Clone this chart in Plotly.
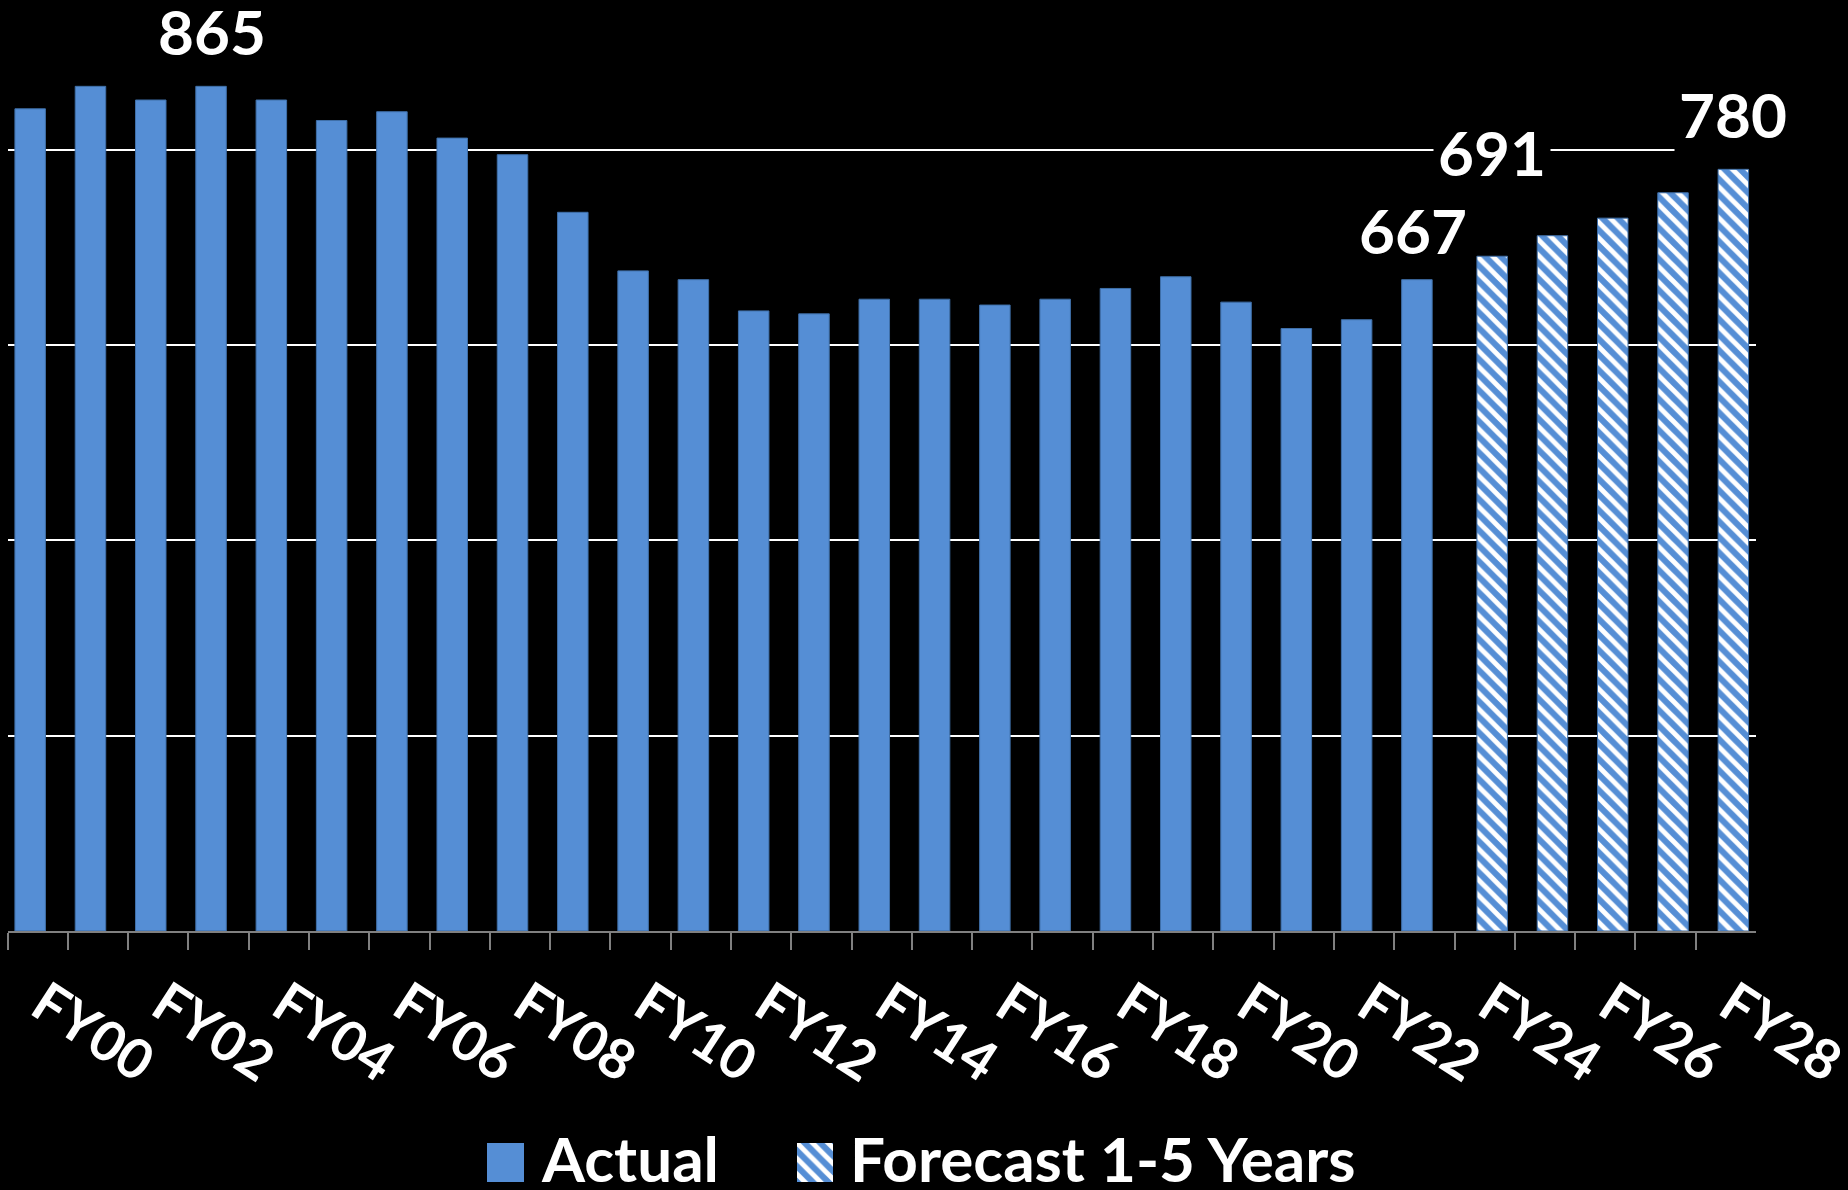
import plotly.graph_objects as go

# Fiscal-year categories shown on the axis
categories = ["FY00", "FY01", "FY02", "FY03", "FY04", "FY05", "FY06", "FY07",
              "FY08", "FY09", "FY10", "FY11", "FY12", "FY13", "FY14", "FY15",
              "FY16", "FY17", "FY18", "FY19", "FY20", "FY21", "FY22", "FY23",
              "FY24", "FY25", "FY26", "FY27", "FY28"]
tick_labels = ["FY00", "", "FY02", "", "FY04", "", "FY06", "", "FY08", "",
               "FY10", "", "FY12", "", "FY14", "", "FY16", "", "FY18", "",
               "FY20", "", "FY22", "", "FY24", "", "FY26", "", "FY28"]

# Actual values
actual_years = categories[:24]
actual_values = [842, 865, 851, 865, 851, 830, 839, 812, 795, 736, 676, 667,
                 635, 632, 647, 647, 641, 647, 658, 670, 644, 617, 626, 667]

# Forecast values (1-5 years out)
forecast_years = categories[24:]
forecast_values = [691, 712, 730, 756, 780]

# Values called out above their bars: (category, value)
callouts = [("FY03", 865), ("FY23", 667), ("FY24", 691), ("FY28", 780)]

BLUE = "#558ed5"
EDGE = "#3f6fa8"
W, H = 1848, 1190
FONT = "Lato"

stripes = dict(shape="\\", fgcolor="white", bgcolor=BLUE, size=11,
               solidity=0.45, fillmode="replace")

fig = go.Figure()

fig.add_trace(go.Bar(
    x=actual_years, y=actual_values, name="Actual",
    width=0.506, offset=-0.377,
    marker=dict(color=BLUE, line=dict(color=EDGE, width=1)),
    showlegend=False, hoverinfo="x+y",
))
fig.add_trace(go.Bar(
    x=forecast_years, y=forecast_values, name="Forecast 1-5 Years",
    width=0.506, offset=-0.129,
    marker=dict(color=BLUE, line=dict(color=EDGE, width=1), pattern=stripes),
    showlegend=False, hoverinfo="x+y",
))

# Legend swatches, each filling its own small axis box
fig.add_trace(go.Bar(x=[0.5], y=[1], width=1, xaxis="x2", yaxis="y2",
                     marker=dict(color=BLUE, line=dict(width=0)),
                     showlegend=False, hoverinfo="skip"))
fig.add_trace(go.Bar(x=[0.5], y=[1], width=1, xaxis="x3", yaxis="y3",
                     marker=dict(color=BLUE, line=dict(width=0), pattern=stripes),
                     showlegend=False, hoverinfo="skip"))

plot_left, plot_right, plot_bottom = 7.5, 1756, 931
y_top = plot_bottom / 0.9765

def px_x(p):
    return p / W

def px_y(p):
    return (H - p) / H

hidden = dict(visible=False, range=[0, 1], fixedrange=True, automargin=False)

fig.update_layout(
    width=W, height=H,
    margin=dict(l=0, r=0, t=0, b=0, autoexpand=False),
    paper_bgcolor="black", plot_bgcolor="black",
    barmode="overlay",
    showlegend=False,
    xaxis=dict(
        domain=[px_x(plot_left), px_x(plot_right)], automargin=False,
        type="category", categoryorder="array", categoryarray=categories,
        tickmode="array", tickvals=categories, ticktext=tick_labels,
        tickson="boundaries", ticks="outside", ticklen=17, tickwidth=2,
        tickcolor="#808080", showline=True, linecolor="#808080", linewidth=2,
        showgrid=False, tickangle=33, ticklabelstandoff=18, ticklabelshift=5,
        tickfont=dict(family=FONT, size=55, color="white", weight="bold"),
        range=[-0.5, 28.5],
    ),
    yaxis=dict(
        domain=[px_y(plot_bottom), 1], range=[0, y_top], automargin=False,
        tickvals=[200, 400, 600, 800], showticklabels=False, ticks="",
        showgrid=True, gridcolor="white", gridwidth=1.5,
        zeroline=False, showline=False,
    ),
    xaxis2=dict(domain=[px_x(487), px_x(524)], anchor="y2", **hidden),
    yaxis2=dict(domain=[px_y(1182), px_y(1143)], anchor="x2", **hidden),
    xaxis3=dict(domain=[px_x(797), px_x(833)], anchor="y3", **hidden),
    yaxis3=dict(domain=[px_y(1182), px_y(1143)], anchor="x3", **hidden),
)

# Value callouts on a black box so they break the gridlines
shifts = {"FY03": (-7, 55), "FY23": (-11, 50), "FY24": (7, 104), "FY28": (7, 55)}
for cat, val in callouts:
    dx, dy = shifts[cat]
    fig.add_annotation(
        x=cat, y=val, xref="x", yref="y", text=str(val), showarrow=False,
        xanchor="center", yanchor="middle", xshift=dx, yshift=dy,
        bgcolor="black", borderpad=4,
        font=dict(family=FONT, size=62, color="white", weight="bold"),
    )

# Legend labels
legend_font = dict(family=FONT, size=62, color="white", weight="bold")
fig.add_annotation(x=px_x(540), y=px_y(1158), xref="paper", yref="paper",
                   text="Actual", showarrow=False, xanchor="left",
                   yanchor="middle", borderpad=0, font=legend_font)
fig.add_annotation(x=px_x(849), y=px_y(1158), xref="paper", yref="paper",
                   text="Forecast 1-5 Years", showarrow=False, xanchor="left",
                   yanchor="middle", borderpad=0, font=legend_font)

# Page number in the corner
fig.add_annotation(x=px_x(1838), y=px_y(1183), xref="paper", yref="paper",
                   text="16", showarrow=False, xanchor="center", yanchor="top",
                   font=dict(family=FONT, size=24, color="#d9d9d9"))

fig.write_html("out.html")
